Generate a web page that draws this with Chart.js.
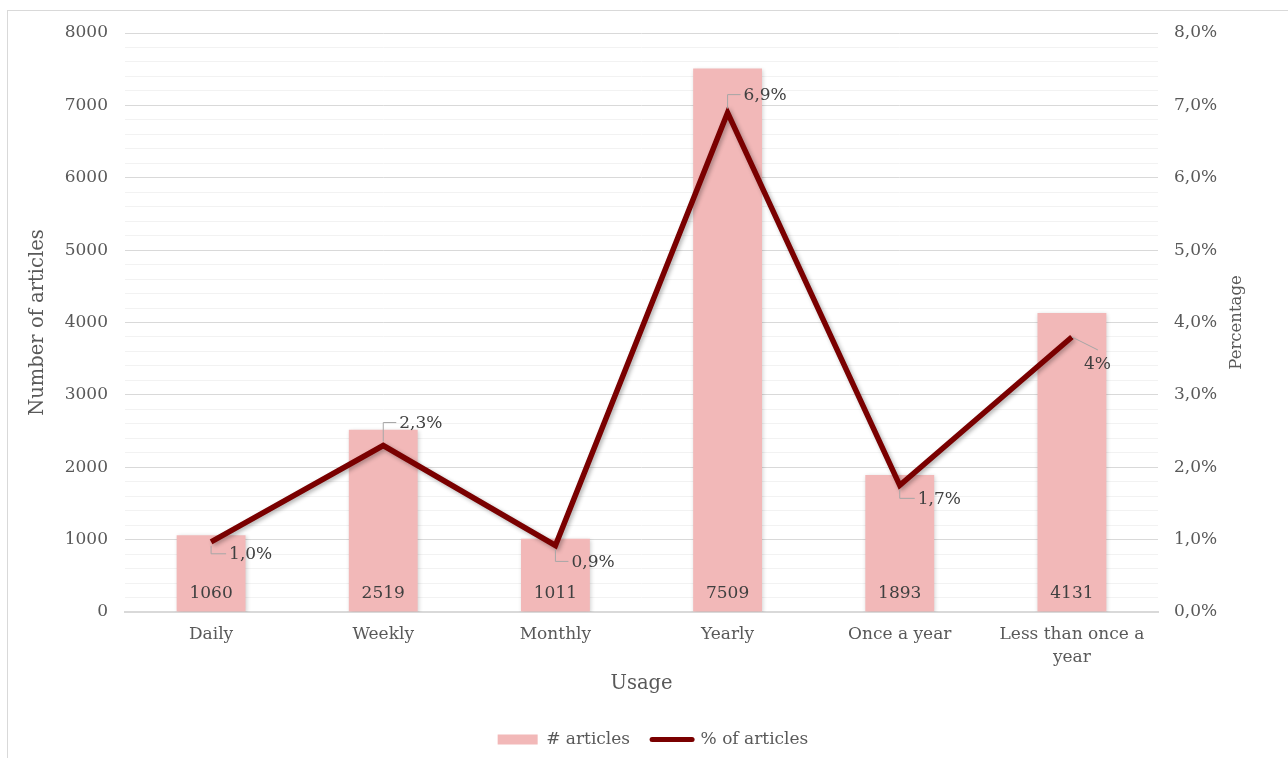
<!DOCTYPE html>
<html>
<head>
<meta charset="utf-8">
<script src="https://cdn.jsdelivr.net/npm/chart.js@4.4.1/dist/chart.umd.min.js"></script>
<style>
  html, body { margin: 0; padding: 0; background: #fff; overflow: hidden; }
  #wrap { position: relative; width: 1288px; height: 758px; }
  #frame { position: absolute; left: 7px; top: 10px; width: 1300px; height: 800px;
           border-left: 1px solid #D9D9D9; border-top: 1px solid #D9D9D9; pointer-events: none; }
  canvas { position: absolute; left: 0; top: 0; }
</style>
</head>
<body>
<div id="wrap">
  <canvas id="c" width="1288" height="758"></canvas>
  <div id="frame"></div>
</div>
<script>
// ---- data ----
const categories = ['Daily', 'Weekly', 'Monthly', 'Yearly', 'Once a year', ['Less than once a', 'year']];
const articleCounts = [1060, 2519, 1011, 7509, 1893, 4131];
const articlePercent = [0.97, 2.3, 0.92, 6.9, 1.75, 3.8];
const percentLabels = ['1,0%', '2,3%', '0,9%', '6,9%', '1,7%', '4%'];
const leftTickStep = 1000;
const rightTickStep = 1;
const rightTitle = 'Percentage';

// ---- styles ----
const FONT = 'DejaVu Serif';
const TEXT = '#595959';
const LABEL = '#404040';
const BAR = '#F2B8B8';
const LINE = '#7A0000';
// per-point label offsets (dx to text start, dy to text middle) and leader style
const labelOffsets = [[18, 12, 'down'], [16, -23, 'up'], [16, 16, 'down'], [16, -18, 'up'], [18, 13, 'down'], [12, 27, 'diag']];

const shadowPlugin = {
  id: 'shadows',
  beforeDatasetDraw(chart, args) {
    const ctx = chart.ctx;
    ctx.save();
    if (args.meta.type === 'bar') {
      ctx.shadowColor = 'rgba(0,0,0,0.18)';
      ctx.shadowBlur = 4;
      ctx.shadowOffsetX = 1;
      ctx.shadowOffsetY = 1;
    } else {
      ctx.shadowColor = 'rgba(0,0,0,0.30)';
      ctx.shadowBlur = 4;
      ctx.shadowOffsetX = 2;
      ctx.shadowOffsetY = 2;
    }
  },
  afterDatasetDraw(chart) { chart.ctx.restore(); }
};

const labelPlugin = {
  id: 'labels',
  afterDraw(chart) {
    const ctx = chart.ctx;
    ctx.save();
    // right axis title, reading bottom-to-top
    const ca = chart.chartArea;
    ctx.font = '16.5px "' + FONT + '"';
    ctx.fillStyle = TEXT;
    ctx.textAlign = 'center';
    ctx.textBaseline = 'middle';
    ctx.translate(1237, (ca.top + ca.bottom) / 2);
    ctx.rotate(-Math.PI / 2);
    ctx.fillText(rightTitle, 0, 0);
    ctx.restore();
  },
  afterDatasetsDraw(chart) {
    const ctx = chart.ctx;
    ctx.save();
    ctx.font = '17px "' + FONT + '"';
    ctx.fillStyle = LABEL;
    ctx.textBaseline = 'middle';
    // bar labels inside base
    const barMeta = chart.getDatasetMeta(0);
    ctx.textAlign = 'center';
    barMeta.data.forEach((el, i) => {
      ctx.fillText(String(articleCounts[i]), el.x, el.base - 18);
    });
    // line labels with leader lines
    const lineMeta = chart.getDatasetMeta(1);
    ctx.textAlign = 'left';
    ctx.strokeStyle = '#A6A6A6';
    ctx.lineWidth = 1;
    lineMeta.data.forEach((el, i) => {
      const [dx, dy, kind] = labelOffsets[i];
      const tx = el.x + dx, ty = el.y + dy;
      ctx.beginPath();
      if (kind === 'diag') {
        ctx.moveTo(el.x, el.y);
        ctx.lineTo(el.x + 26, el.y + 13);
      } else {
        ctx.moveTo(el.x, el.y + (kind === 'up' ? -4 : 4));
        ctx.lineTo(el.x, ty);
        ctx.lineTo(tx - 3, ty);
      }
      ctx.stroke();
      ctx.fillText(percentLabels[i], tx, ty + 1);
    });
    ctx.restore();
  }
};

Chart.defaults.font.family = FONT;
Chart.defaults.color = TEXT;

new Chart(document.getElementById('c'), {
  data: {
    labels: categories,
    datasets: [
      {
        type: 'bar',
        label: '# articles',
        data: articleCounts,
        backgroundColor: BAR,
        yAxisID: 'y',
        order: 2,
        barPercentage: 0.4,
        categoryPercentage: 1.0
      },
      {
        type: 'line',
        label: '% of articles',
        data: articlePercent,
        borderColor: LINE,
        backgroundColor: LINE,
        borderWidth: 5.5,
        borderJoinStyle: 'miter',
        pointRadius: 0,
        tension: 0,
        yAxisID: 'y1',
        order: 1
      }
    ]
  },
  options: {
    responsive: false,
    animation: false,
    layout: { padding: { top: 33, left: 18, right: 0, bottom: 0 } },
    plugins: {
      tooltip: { enabled: false },
      legend: {
        position: 'bottom',
        labels: {
          usePointStyle: true,
          pointStyleWidth: 40,
          boxWidth: 40,
          boxHeight: 10,
          padding: 22,
          color: TEXT,
          font: { size: 17, family: FONT },
          generateLabels(chart) {
            return [
              { text: '# articles', fillStyle: BAR, strokeStyle: BAR, lineWidth: 0, pointStyle: 'rect', datasetIndex: 0, fontColor: TEXT },
              { text: '% of articles', fillStyle: LINE, strokeStyle: LINE, lineWidth: 5, lineCap: 'round', pointStyle: 'line', datasetIndex: 1, fontColor: TEXT }
            ];
          }
        }
      }
    },
    scales: {
      x: {
        grid: { display: false, drawTicks: false },
        border: { display: true, color: '#D9D9D9', width: 2 },
        ticks: { padding: 12, font: { size: 17, lineHeight: 1.3 }, color: TEXT, maxRotation: 0, autoSkip: false },
        title: { display: true, text: 'Usage', font: { size: 19.5 }, color: TEXT, padding: { top: 0, bottom: 13 } },
        afterFit(s) { s.height = 97; }
      },
      y: {
        position: 'left',
        min: 0, max: 8000,
        grid: {
          drawTicks: false,
          color: (c) => (c.tick && c.tick.value % leftTickStep === 0) ? '#D9D9D9' : '#F2F2F2',
          lineWidth: 1
        },
        border: { display: false },
        ticks: {
          stepSize: 200,
          autoSkip: false,
          padding: 17,
          font: { size: 17 },
          color: TEXT,
          callback: (v) => (v % leftTickStep === 0) ? String(v) : ''
        },
        title: { display: true, text: 'Number of articles', font: { size: 19.5 }, color: TEXT, padding: { top: 8, bottom: 0 } },
        afterFit(s) { s.width = 107; }
      },
      y1: {
        position: 'right',
        min: 0, max: 8,
        grid: { display: false, drawTicks: false },
        border: { display: false },
        ticks: {
          stepSize: rightTickStep,
          padding: 16,
          font: { size: 17 },
          color: TEXT,
          callback: (v) => v.toFixed(1).replace('.', ',') + '%'
        },
        title: { display: false },
        afterFit(s) { s.width = 130; }
      }
    }
  },
  plugins: [shadowPlugin, labelPlugin]
});
</script>
</body>
</html>
